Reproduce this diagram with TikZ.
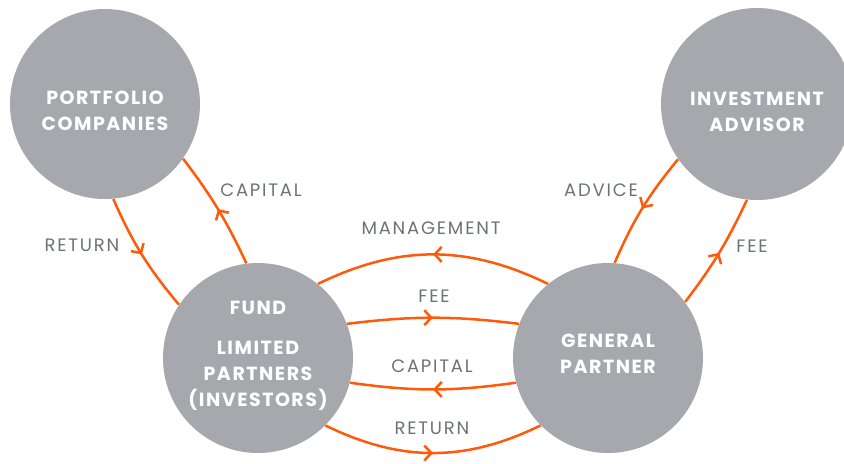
\documentclass[tikz,border=0pt]{standalone}
\usepackage{fontspec}
\setmainfont{Poppins}
\newfontfamily\partyfont{Poppins}[LetterSpace=8]
\newfontfamily\tagfont{Poppins}[LetterSpace=10]
\usetikzlibrary{arrows.meta,decorations.markings}
\definecolor{partygray}{HTML}{A7A8AE}
\definecolor{flowred}{HTML}{FF5A0A}
\definecolor{taggray}{HTML}{6E7278}

\begin{document}
\begin{tikzpicture}[x=0.5pt,y=-0.5pt]
	\tikzset{
		party/.style={circle, fill=partygray, minimum size=95pt, inner sep=0pt},
		partytext/.style={align=center, text=white, inner sep=0pt, font={\partyfont\bfseries\fontsize{9.5}{13}\selectfont}},
		flow/.style={flowred, line width=1.25pt, postaction={decorate}, decoration={markings, mark=at position 0.5 with {\arrow{Straight Barb[length=3.5pt,width=7.5pt]}}}},
		tag/.style={text=taggray, inner sep=0pt, font={\tagfont\fontsize{9}{11}\selectfont}},
	}
	\useasboundingbox (0,0) rectangle (844,463);

	% the four parties
	\node[party, label={[partytext, yshift=-3.5pt]center:{PORTFOLIO\\COMPANIES}}] (port) at (105,104) {};
	\node[party, label={[partytext, yshift=1pt]center:{FUND\\[7pt]LIMITED\\PARTNERS\\(INVESTORS)}}] (fund) at (258,358) {};
	\node[party, label={[partytext, yshift=2pt]center:{GENERAL\\PARTNER}}] (gp) at (608,358) {};
	\node[party, minimum size=96pt, label={[partytext, yshift=-4pt]center:{INVESTMENT\\ADVISOR}}] (adv) at (757,104) {};

	% fund <-> portfolio companies
	\draw[flow] (port.-85) to[bend right=8] (fund.146);
	\draw[flow] (fund.97) to[bend right=6] (port.-35);
	\node[tag] (t-ret1) at (82,245) {RETURN};
	\node[tag] (t-cap1) at (261,190) {CAPITAL};

	% fund <-> general partner
	\draw[flow] (gp.129) to[bend right=26] (fund.51);
	\draw[flow] (fund.21) to[bend left=7] (gp.159);
	\draw[flow] (gp.195) to[bend left=8] (fund.-15);
	\draw[flow] (fund.-45) to[bend right=26] (gp.225);
	\node[tag] (t-mgmt) at (431,228) {MANAGEMENT};
	\node[tag] (t-fee1) at (434,296) {FEE};
	\node[tag] (t-cap2) at (432,366) {CAPITAL};
	\node[tag] (t-ret2) at (432,428) {RETURN};

	% general partner <-> investment advisor
	\draw[flow] (adv.215) to[bend right=8] (gp.86);
	\draw[flow] (gp.36) to[bend right=6] (adv.264);
	\node[tag] (t-adv) at (601,190) {ADVICE};
	\node[tag] (t-fee2) at (752,246) {FEE};
\end{tikzpicture}
\end{document}
